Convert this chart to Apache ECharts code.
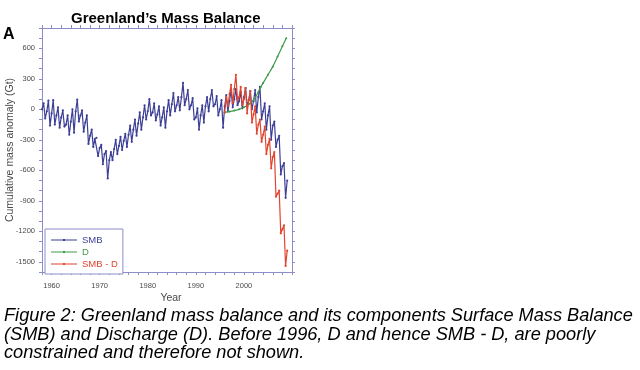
<!DOCTYPE html>
<html>
<head>
<meta charset="utf-8">
<script src="https://cdn.jsdelivr.net/npm/echarts@6/dist/echarts.min.js"></script>
<style>
html,body{margin:0;padding:0;background:#fff;}
#chart{width:640px;height:370px;}
</style>
</head>
<body>
<div id="chart"></div>
<script>
// ---- data ----
// sample months within each year: January, May (seasonal peak), September (seasonal trough)
const sampleMonths = [1, 5, 9];

const smbYears = [1958,1959,1960,1961,1962,1963,1964,1965,1966,1967,1968,1969,1970,1971,1972,1973,1974,1975,1976,1977,1978,1979,1980,1981,1982,1983,1984,1985,1986,1987,1988,1989,1990,1991,1992,1993,1994,1995,1996,1997,1998,1999,2000,2001,2002,2003,2004,2005,2006,2007,2008,2009];
const smbJan = [0,-20,-40,-60,-80,-150,-120,-20,-60,-130,-260,-290,-380,-440,-500,-390,-360,-310,-250,-200,-140,-80,-20,-30,-50,-80,-20,50,40,120,100,40,-80,-60,30,100,50,0,30,80,100,80,120,90,80,120,-20,-60,-160,-300,-560,-700];
const smbMay = [60,85,90,20,-10,-60,0,95,-10,-60,-200,-280,-350,-410,-420,-300,-270,-240,-160,-100,-30,40,100,60,30,20,90,160,120,260,190,110,10,40,120,190,130,90,140,190,200,170,210,180,190,220,60,30,-120,-260,-530,null];
const smbSep = [-90,-160,-150,-180,-170,-250,-230,-120,-220,-340,-370,-460,-540,-680,-500,-440,-400,-370,-320,-260,-200,-100,-60,-110,-160,-180,-60,-20,-10,40,0,-100,-200,-130,-20,30,-60,-180,-20,20,40,10,30,0,-30,-100,-200,-300,-370,-640,-870,null];

const netYears = [1996,1997,1998,1999,2000,2001,2002,2003,2004,2005,2006,2007,2008,2009];
const netJan = [-30,150,200,120,100,90,-50,-150,-250,-350,-470,-830,-1180,-1390];
const netMay = [120,240,340,220,210,180,30,-100,-170,-290,-420,-800,-1140,null];
const netSep = [30,60,90,40,-40,-130,-240,-320,-440,-580,-860,-1220,-1540,null];

const dTimes = [1996.0,1997,1998,1999,2000,2001,2002,2003,2003.5,2004,2005,2006,2007,2008,2008.8];
const dValues = [-30,-22,-12,0,20,50,90,170,220,260,340,420,520,620,700];

const xTicks = [1960,1970,1980,1990,2000];
const yTicks = [600,300,0,-300,-600,-900,-1200,-1500];

const seriesNames = ['SMB','D','SMB - D'];
const seriesColors = ['#3d3f96','#3f9a4a','#e2452f'];

const captionLines = [
  'Figure 2: Greenland mass balance and its components Surface Mass Balance',
  '(SMB) and Discharge (D). Before 1996, D and hence SMB - D, are poorly',
  'constrained and therefore not shown.'
];

// ---- build series points ----
function build(years, jan, may, sep) {
  const cols = [jan, may, sep];
  const out = [];
  years.forEach((y, i) => {
    cols.forEach((c, k) => {
      if (c[i] !== null && c[i] !== undefined) {
        out.push([y + (sampleMonths[k] - 1) / 12, c[i]]);
      }
    });
  });
  return out;
}
const smbData = build(smbYears, smbJan, smbMay, smbSep);
const netData = build(netYears, netJan, netMay, netSep);
const dData = dTimes.map((t, i) => [t, dValues[i]]);

const FONT = 'Liberation Sans, Arial, sans-serif';
const axisCol = '#8d8dc9';
const labCol = '#4a4a4a';

const chart = echarts.init(document.getElementById('chart'), null, {renderer: 'canvas'});

const xCommon = {
  type: 'value', min: 1958, max: 2010, interval: 2,
  axisLine: {show: true, onZero: false, lineStyle: {color: axisCol, width: 1}},
  axisTick: {show: true, length: 3, lineStyle: {color: axisCol}},
  splitLine: {show: false}
};
const yCommon = {
  type: 'value', min: -1600, max: 800, interval: 100,
  axisLine: {show: true, onZero: false, lineStyle: {color: axisCol, width: 1}},
  axisTick: {show: true, length: 3, lineStyle: {color: axisCol}},
  splitLine: {show: false}
};

chart.setOption({
  animation: false,
  backgroundColor: '#fff',
  grid: {left: 42, right: 348, top: 28, bottom: 98, containLabel: false},
  xAxis: [
    Object.assign({}, xCommon, {
      position: 'bottom',
      axisLabel: {
        color: labCol, fontSize: 7.5, fontFamily: FONT, margin: 10,
        formatter: v => (xTicks.indexOf(Math.round(v)) >= 0 ? String(Math.round(v)) : '')
      }
    }),
    Object.assign({}, xCommon, {position: 'top', axisLabel: {show: false}})
  ],
  yAxis: [
    Object.assign({}, yCommon, {
      position: 'left',
      axisLabel: {
        color: labCol, fontSize: 7.5, fontFamily: FONT, margin: 7,
        formatter: v => (yTicks.indexOf(Math.round(v)) >= 0 ? String(Math.round(v)) : '')
      }
    }),
    Object.assign({}, yCommon, {position: 'right', axisLabel: {show: false}})
  ],
  legend: {
    orient: 'vertical', left: 45, top: 229,
    backgroundColor: '#fff',
    borderColor: axisCol, borderWidth: 1, borderRadius: 0,
    padding: [6, 5, 5, 6],
    itemWidth: 26, itemHeight: 9, itemGap: 2,
    textStyle: {fontSize: 9.5, fontFamily: FONT},
    data: seriesNames.map((n, i) => ({
      name: n, textStyle: {color: seriesColors[i]},
      itemStyle: {color: seriesColors[i]},
      icon: 'path://M0,4.5 L26,4.5 L26,5.5 L0,5.5 Z M12,4 L14,4 L14,6 L12,6 Z'
    }))
  },
  series: [
    {
      name: seriesNames[0], type: 'line', data: smbData,
      xAxisIndex: 0, yAxisIndex: 0,
      symbol: 'circle', symbolSize: 2.2, showSymbol: true,
      lineStyle: {color: seriesColors[0], width: 1.2},
      itemStyle: {color: seriesColors[0]}, z: 2
    },
    {
      name: seriesNames[1], type: 'line', data: dData,
      xAxisIndex: 0, yAxisIndex: 0,
      symbol: 'circle', symbolSize: 2, showSymbol: true, smooth: 0.3,
      lineStyle: {color: seriesColors[1], width: 1.2},
      itemStyle: {color: seriesColors[1]}, z: 3
    },
    {
      name: seriesNames[2], type: 'line', data: netData,
      xAxisIndex: 0, yAxisIndex: 0,
      symbol: 'circle', symbolSize: 2.2, showSymbol: true,
      lineStyle: {color: seriesColors[2], width: 1.2},
      itemStyle: {color: seriesColors[2]}, z: 4
    }
  ],
  graphic: [
    {type: 'text', left: 71, top: 11,
     style: {text: 'Greenland\u2019s Mass Balance', font: 'bold 15px ' + FONT, fill: '#000'}},
    {type: 'text', left: 3, top: 27,
     style: {text: 'A', font: 'bold 16px ' + FONT, fill: '#000'}},
    {type: 'text', x: 10, y: 150, rotation: Math.PI / 2,
     style: {text: 'Cumulative mass anomaly (Gt)', font: '10.5px ' + FONT, fill: labCol,
             textAlign: 'center', textVerticalAlign: 'middle'}},
    {type: 'text', x: 171, y: 298,
     style: {text: 'Year', font: '10.5px ' + FONT, fill: labCol,
             textAlign: 'center', textVerticalAlign: 'middle'}}
  ].concat(captionLines.map((t, i) => ({
    type: 'text', left: 4, top: 307 + i * 18.5,
    style: {text: t, font: 'italic 18.2px ' + FONT, fill: '#000'}
  })))
});
</script>
</body>
</html>
